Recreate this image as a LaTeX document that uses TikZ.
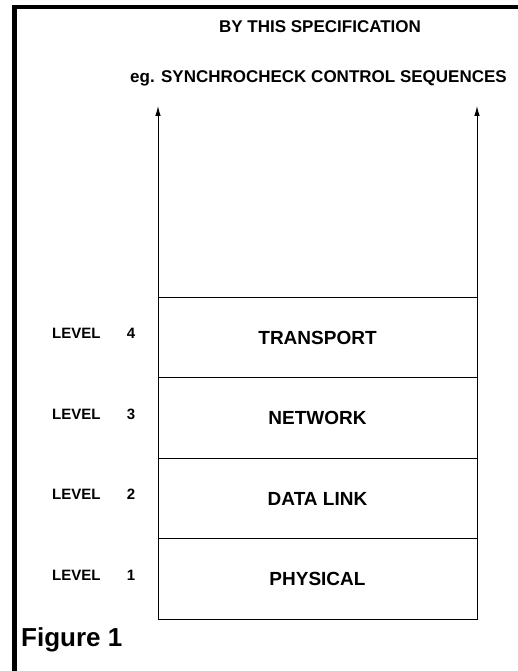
\documentclass[tikz,border=0pt]{standalone}
\usepackage{fontspec}
\setmainfont{Liberation Sans}
\usepackage{tikz}
\usetikzlibrary{positioning,arrows.meta,calc}

\tikzset{
	layer/.style={draw,line width=0.8pt,minimum width=319pt,minimum height=80.5pt,inner sep=0pt,outer sep=0pt,
		font=\bfseries\fontsize{19}{21}\selectfont},
	lvl/.style={inner sep=0pt,font=\bfseries\fontsize{15}{17}\selectfont},
	head/.style={inner sep=0pt,font=\bfseries\fontsize{17}{19}\selectfont},
	up/.style={line width=0.9pt,-{Latex[length=10pt,width=5.5pt]}}
}

\begin{document}
\begin{tikzpicture}[x=1pt,y=-1pt]
	\useasboundingbox (0,0) rectangle (518,671);
	\fill (12,5) rectangle (518,9.5);
	\fill (12,5) rectangle (16.5,671);
	
	\node[layer] (physical) at (317.5,579) {PHYSICAL};
	\node[layer,above=0pt of physical] (datalink) {DATA LINK};
	\node[layer,above=0pt of datalink] (network) {NETWORK};
	\node[layer,above=0pt of network] (transport) {TRANSPORT};
	
	\foreach \n/\layer in {4/transport,
		3/network,
		2/datalink,
		1/physical%
	}
	{
		\node[lvl] (num\n) at ($(\layer.west)+(-27,-4)$) {\n};
		\node[lvl,left=26pt of num\n] (level\n) {LEVEL};
	};
	
	\coordinate (lefttip) at (158,106);
	\coordinate (righttip) at (477,106);
	\draw[up] (transport.north west)--(lefttip);
	\draw[up] (transport.north east)--(righttip);
	
	\node[head] (spec) at (320,27) {BY THIS SPECIFICATION};
	\node[head] (example) at (318.5,78) {eg. SYNCHROCHECK CONTROL SEQUENCES};
	
	\node[anchor=west,inner sep=0pt,font=\bfseries\fontsize{26}{29}\selectfont] (figure) at (21,640) {Figure 1};
	
\end{tikzpicture}
\end{document}
